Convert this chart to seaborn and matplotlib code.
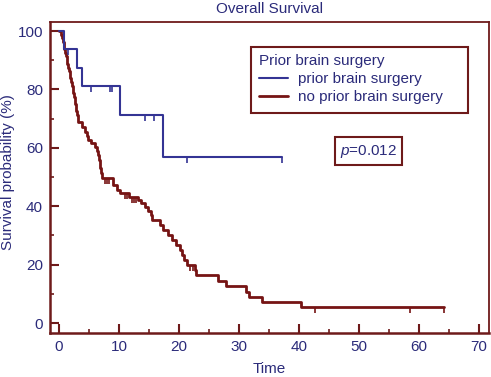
import matplotlib
matplotlib.use("Agg")
import matplotlib.pyplot as plt
import matplotlib.markers as mmarkers
from matplotlib.lines import Line2D
from matplotlib.patches import Rectangle
import numpy as np
import pandas as pd
import seaborn as sns

# ---------------- data ----------------
title = "Overall Survival"
x_label = "Time"
y_label = "Survival probability (%)"
legend_title = "Prior brain surgery"
group_names = ["prior brain surgery", "no prior brain surgery"]
p_text = "=0.012"

x_ticks = [0, 10, 20, 30, 40, 50, 60, 70]
y_ticks = [0, 20, 40, 60, 80, 100]

# prior brain surgery: step times and survival after each step
prior_t = [0.0, 0.9, 3.0, 3.8, 10.2, 17.4, 37.2]
prior_s = [100.0, 93.8, 87.5, 81.3, 71.2, 56.9, 56.9]
prior_censor_t = [1.5, 5.4, 8.5, 8.9, 14.3, 15.8, 21.3, 37.2]

# no prior brain surgery
noprior_t = [0.0, 0.3, 0.5, 0.6, 0.8, 0.9, 1.0, 1.1, 1.3, 1.4, 1.5, 1.6,
             1.8, 1.9, 2.0, 2.1, 2.3, 2.4, 2.5, 2.6, 2.7, 2.8, 2.9, 3.0,
             3.1, 3.2, 3.8, 4.3, 4.6, 4.9, 5.4, 6.0, 6.3, 6.5, 6.7, 6.8,
             6.9, 7.0, 7.1, 9.0, 9.6, 10.2, 11.6, 13.2, 13.7, 14.3, 14.9,
             15.3, 15.5, 16.8, 17.4, 18.2, 18.9, 19.5, 20.2, 20.5, 20.8,
             21.3, 22.7, 22.9, 26.5, 27.9, 31.2, 31.6, 33.9, 40.4, 64.2]
noprior_s = [100.0, 98.8, 97.5, 96.3, 95.0, 93.8, 92.5, 91.3, 90.0, 88.8,
             87.5, 86.3, 85.0, 83.8, 82.5, 81.3, 80.0, 78.8, 77.5, 76.3,
             75.0, 73.8, 72.5, 71.3, 70.0, 68.8, 67.0, 65.5, 64.0, 62.8,
             61.5, 60.2, 58.8, 57.5, 56.0, 54.5, 53.0, 51.5, 49.7, 47.3,
             45.5, 44.5, 43.2, 42.2, 41.0, 39.8, 38.5, 37.0, 35.2, 33.7,
             31.8, 30.0, 28.3, 26.7, 25.0, 23.3, 21.6, 19.9, 18.2, 16.3,
             14.5, 12.8, 10.7, 8.9, 7.1, 5.4, 5.4]
noprior_censor_t = [7.7, 8.0, 8.3, 11.0, 11.4, 12.1, 12.5, 12.9, 21.8,
                    22.3, 42.7, 58.5, 64.2]

# ---------------- style ----------------
BLUE = "#343494"
RED = "#761414"
FRAME = "#6E1A1A"
TEXT = "#2B2B7A"
FS = 11
W, H = 491, 377

sns.set_theme(style="white")
plt.rcParams["font.family"] = ["Liberation Sans", "DejaVu Sans"]
plt.rcParams["mathtext.fontset"] = "custom"
plt.rcParams["mathtext.it"] = "Liberation Sans:italic"
plt.rcParams["mathtext.rm"] = "Liberation Sans"

fig = plt.figure(figsize=(W / 100, H / 100), dpi=100)
ax = fig.add_axes([50 / W, 1 - 333 / H, (489 - 50) / W, (333 - 21.7) / H])

df_prior = pd.DataFrame({"t": prior_t, "s": prior_s})
df_noprior = pd.DataFrame({"t": noprior_t, "s": noprior_s})

sns.lineplot(data=df_prior, x="t", y="s", ax=ax, estimator=None, sort=False,
             drawstyle="steps-post", color=BLUE, linewidth=1.5, zorder=3)
sns.lineplot(data=df_noprior, x="t", y="s", ax=ax, estimator=None, sort=False,
             drawstyle="steps-post", color=RED, linewidth=2.0, zorder=2)


def surv_at(times, ts, ss):
    idx = np.searchsorted(np.asarray(ts), np.asarray(times), side="right") - 1
    return np.asarray(ss)[idx]


ax.plot(prior_censor_t, surv_at(prior_censor_t, prior_t, prior_s),
        linestyle="none", marker=mmarkers.TICKDOWN, markersize=4.5,
        markeredgewidth=1.2, color=BLUE, zorder=3)
ax.plot(noprior_censor_t, surv_at(noprior_censor_t, noprior_t, noprior_s),
        linestyle="none", marker=mmarkers.TICKDOWN, markersize=4.5,
        markeredgewidth=1.2, color=RED, zorder=2)

ax.set_xlim(-1.5, 71.7)
ax.set_ylim(-3.4, 103.2)
ax.set_xticks(x_ticks)
ax.set_yticks(y_ticks)
ax.set_xticks([5, 15, 25, 35, 45, 55, 65], minor=True)
ax.set_yticks([10, 30, 50, 70, 90], minor=True)
ax.tick_params(axis="both", which="major", direction="in", length=6.5, width=1.5,
               color=FRAME, labelcolor=TEXT, labelsize=FS, pad=5)
ax.tick_params(axis="both", which="minor", direction="in", length=3.2, width=1.2,
               color=FRAME)
ax.tick_params(axis="x", which="both", bottom=True, top=False)
ax.tick_params(axis="y", which="both", left=True, right=False)

for side, sp in ax.spines.items():
    sp.set_color(FRAME)
    sp.set_linewidth(1.8 if side in ("left", "bottom") else 1.3)
    sp.set_visible(True)

ax.set_title(title, color=TEXT, fontsize=FS, pad=6.5)
ax.set_xlabel(x_label, color=TEXT, fontsize=FS, labelpad=6)
ax.set_ylabel(y_label, color=TEXT, fontsize=FS)
ax.yaxis.set_label_coords((15.5 - 50) / 439, (333 - 172) / 311.3)
ax.grid(False)

handles = [Line2D([], [], color=BLUE, linewidth=1.5),
           Line2D([], [], color=RED, linewidth=2.0)]
leg = ax.legend(handles, group_names, title=legend_title, loc="upper left",
                bbox_to_anchor=(251 / W, 1 - 46.7 / H),
                bbox_transform=fig.transFigure, fontsize=FS,
                title_fontsize=FS, frameon=False,
                handlelength=1.9, handletextpad=0.65, labelspacing=0.25,
                borderpad=0.5, alignment="left", borderaxespad=0)
leg.get_title().set_color(TEXT)
for t in leg.get_texts():
    t.set_color(TEXT)

# legend frame (wider than the text, as in the original)
fig.patches.append(Rectangle((251 / W, 1 - 112.7 / H), (468 - 251) / W,
                             (112.7 - 46.7) / H, transform=fig.transFigure,
                             facecolor="none", edgecolor=FRAME, linewidth=1.5,
                             zorder=5))

ax.text(368.5 / W, 1 - 151 / H, "$p$" + p_text, transform=fig.transFigure,
        ha="center", va="center", color=TEXT, fontsize=FS,
        bbox=dict(boxstyle="square,pad=0.35", facecolor="white",
                  edgecolor=FRAME, linewidth=1.5))

fig.savefig("out.png", dpi=100)
